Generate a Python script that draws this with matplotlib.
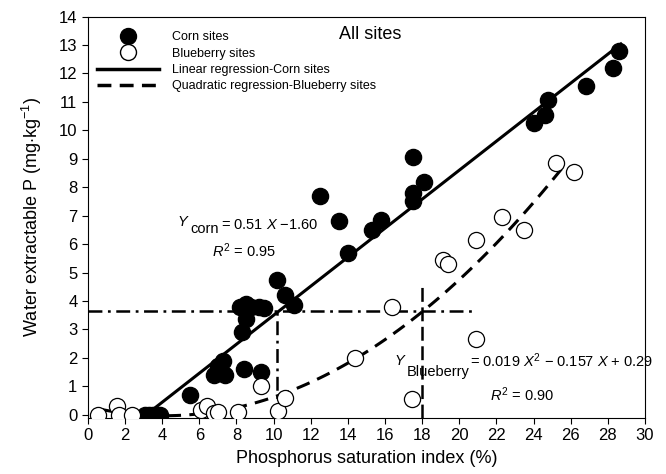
import matplotlib
matplotlib.use("Agg")
import matplotlib.pyplot as plt
from matplotlib.lines import Line2D
import numpy as np

plt.rcParams["font.family"] = "Liberation Sans"
plt.rcParams["mathtext.fontset"] = "custom"
plt.rcParams["mathtext.rm"] = "Liberation Sans"
plt.rcParams["mathtext.it"] = "Liberation Sans:italic"
plt.rcParams["lines.scale_dashes"] = False

# corn sites
corn_psi = [3.1, 3.3, 3.5, 3.7, 3.9, 5.5, 6.8, 7.0, 7.3, 7.4, 8.4, 9.3, 8.3, 8.5,
            8.2, 8.5, 8.8, 9.2, 9.5, 10.2, 10.6, 11.1, 12.5, 13.5, 14.0, 15.3,
            15.8, 17.5, 17.5, 17.5, 18.1, 24.0, 24.6, 24.8, 26.8, 28.3, 28.6]
corn_wep = [0, 0, 0, 0, 0, 0.7, 1.4, 1.7, 1.9, 1.4, 1.6, 1.5, 2.9, 3.35,
            3.8, 3.9, 3.8, 3.8, 3.75, 4.75, 4.2, 3.85, 7.7, 6.8, 5.7, 6.5,
            6.85, 9.05, 7.8, 7.5, 8.2, 10.25, 10.55, 11.05, 11.55, 12.2, 12.8]

# blueberry sites
blue_psi = [0.55, 1.55, 1.7, 2.35, 6.1, 6.4, 6.8, 7.0, 8.1, 9.3, 10.25, 10.6,
            14.4, 16.4, 17.45, 19.1, 19.4, 20.9, 20.9, 22.3, 23.5, 25.2, 26.2]
blue_wep = [0, 0.3, 0, 0, 0.15, 0.3, 0.05, 0.1, 0.1, 1.0, 0.12, 0.6,
            2.0, 3.8, 0.55, 5.45, 5.3, 2.65, 6.15, 6.95, 6.5, 8.85, 8.55]

# regression coefficients
corn_slope, corn_icpt = 0.51, -1.60
blue_a, blue_b, blue_c = 0.019, -0.157, 0.29

# change point guides
wep_threshold = 3.65
corn_cp = 10.2
blue_cp = 18.0

fig = plt.figure(figsize=(6.66, 4.74), dpi=100)
ax = fig.add_axes([0.132, 0.119, 0.8365, 0.846])

xc = np.linspace(-corn_icpt / corn_slope, 28.7, 50)
ax.plot(xc, corn_slope * xc + corn_icpt, color="black", lw=2.2, zorder=2)
xb = np.linspace(0.7, 25.5, 100)
ax.plot(xb, blue_a * xb**2 + blue_b * xb + blue_c, color="black", lw=2.2,
        dashes=(10, 6), zorder=2)

dashdot = (10, 4, 2, 4)
ax.plot([0, 20.9], [wep_threshold, wep_threshold], color="black", lw=1.8,
        dashes=dashdot, zorder=2)
ax.plot([corn_cp, corn_cp], [-0.1, wep_threshold], color="black", lw=1.8,
        dashes=dashdot, zorder=2)
ax.plot([blue_cp, blue_cp], [-0.1, 4.65], color="black", lw=1.8,
        dashes=(10, 4), zorder=2)

ax.scatter(corn_psi, corn_wep, s=135, color="black", zorder=3)
ax.scatter(blue_psi, blue_wep, s=135, facecolor="white", edgecolor="black",
           linewidth=0.9, zorder=4)

ax.set_xlim(0, 30)
ax.set_ylim(-0.1, 14)
ax.set_xticks(range(0, 31, 2))
ax.set_yticks(range(0, 15))
ax.tick_params(direction="out", length=4, labelsize=12, top=False, right=False)
ax.set_xlabel("Phosphorus saturation index (%)", fontsize=13, labelpad=5)
ax.set_ylabel(r"Water extractable P (mg$\cdot$kg$^{-1}$)", fontsize=13, labelpad=11)

handles = [
    Line2D([], [], ls="none", marker="o", ms=11.5, color="black"),
    Line2D([], [], ls="none", marker="o", ms=11.5, mfc="white", mec="black", mew=1.0),
    Line2D([], [], color="black", lw=2.5),
    Line2D([], [], color="black", lw=2.5, dashes=(10, 6)),
]
labels = ["Corn sites", "Blueberry sites", "Linear regression-Corn sites",
          "Quadratic regression-Blueberry sites"]
ax.legend(handles, labels, loc="upper left", bbox_to_anchor=(0.0, 0.985),
          frameon=False, fontsize=9, handlelength=5.0, handletextpad=1.0,
          labelspacing=0.35, borderaxespad=0.3)

ax.text(0.506, 0.955, "All sites", transform=ax.transAxes, fontsize=13,
        ha="center", va="center")

# corn regression equation
ax.text(4.8, 6.78, r"$Y$", fontsize=10.5, ha="left", va="center")
ax.text(5.5, 6.52, "corn", fontsize=10.5, ha="left", va="center")
ax.text(7.15, 6.68, r"= 0.51 $X$ $-$1.60", fontsize=10.5, ha="left", va="center")
ax.text(8.4, 5.78, r"$R^2$ = 0.95", fontsize=10.5, ha="center", va="center")

# blueberry regression equation
ax.text(16.8, 1.9, r"$Y$", fontsize=10.5, ha="center", va="center")
ax.text(17.15, 1.5, "Blueberry", fontsize=10.5, ha="left", va="center")
ax.text(20.6, 1.9, r"= 0.019 $X^2$ $-$ 0.157 $X$ + 0.29", fontsize=10.5,
        ha="left", va="center")
ax.text(23.4, 0.7, r"$R^2$ = 0.90", fontsize=10.5, ha="center", va="center")

fig.savefig("out.png", dpi=100)
